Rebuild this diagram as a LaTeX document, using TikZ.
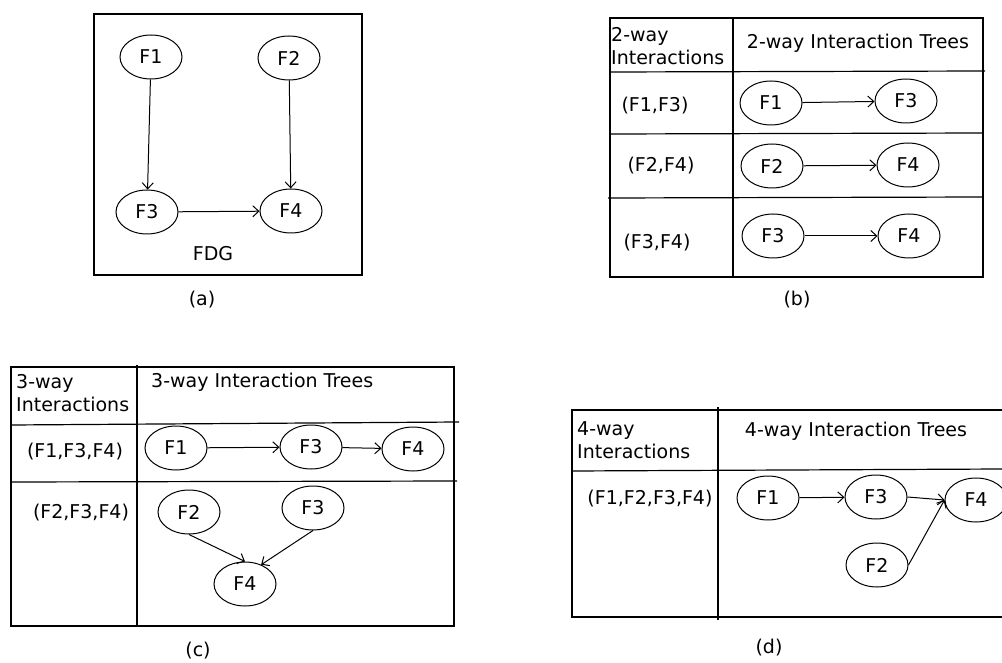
\documentclass[tikz,border=0pt]{standalone}
\usepackage{fontspec}
\setmainfont{DejaVu Sans}
\usetikzlibrary{shapes.geometric,arrows.meta}
\tikzset{
  feat/.style={draw,ellipse,line width=1pt,minimum width=62pt,minimum height=44pt,inner sep=0pt},
  dep/.style={-{Straight Barb[length=6pt,width=11pt]},line width=1pt},
  grid/.style={line width=1.2pt},
  head/.style={align=left,anchor=west,inner sep=0pt}
}
\begin{document}
\begin{tikzpicture}[x=1pt,y=-1pt,font=\fontsize{19}{23}\selectfont]
\useasboundingbox (0,0) rectangle (1002,663);

% (a) FDG
\draw[grid] (94,14) rectangle (362,275);
\node[feat] (a1) at (151,57) {F1};
\node[feat] (a2) at (289,58) {F2};
\node[feat] (a3) at (147,212) {F3};
\node[feat] (a4) at (291,211) {F4};
\draw[dep] (a1) -- (a3);
\draw[dep] (a2) -- (a4);
\draw[dep] (a3) -- (a4);
\node (fdg) at (213,254) {FDG};
\node (capa) at (202,300) {(a)};

% (b) 2-way
\draw[grid] (610,18) rectangle (983,277);
\draw[grid] (733,18) -- (733,277);
\draw[grid] (610,72) -- (985,71);
\draw[grid] (610,134) -- (983,133);
\draw[grid] (608,198) -- (983,197);
\node[head] (b0) at (611,46) {2-way\\Interactions};
\node (bt) at (858,43) {2-way Interaction Trees};
\node (br1) at (655,106) {(F1,F3)};
\node (br2) at (661,166) {(F2,F4)};
\node (br3) at (657,243) {(F3,F4)};
\node[feat] (b11) at (771,103) {F1};
\node[feat] (b13) at (906,101) {F3};
\node[feat] (b22) at (772,166) {F2};
\node[feat] (b24) at (908,165) {F4};
\node[feat] (b33) at (773,236) {F3};
\node[feat] (b34) at (909,236) {F4};
\draw[dep] (b11) -- (b13);
\draw[dep] (b22) -- (b24);
\draw[dep] (b33) -- (b34);
\node (capb) at (797,300) {(b)};

% (c) 3-way
\draw[grid] (11,367) rectangle (454,626);
\draw[grid] (137,365) -- (137,626);
\draw[grid] (11,425) -- (459,422);
\draw[grid] (11,482) -- (457,481);
\node[head] (c0) at (16,393) {3-way\\Interactions};
\node[anchor=west,inner sep=0pt] (ct) at (151,382) {3-way Interaction Trees};
\node (cr1) at (75,452) {(F1,F3,F4)};
\node (cr2) at (81,513) {(F2,F3,F4)};
\node[feat] (c11) at (176,448) {F1};
\node[feat] (c13) at (311,447) {F3};
\node[feat] (c14) at (413,449) {F4};
\draw[dep] (c11) -- (c13);
\draw[dep] (c13) -- (c14);
\node[feat] (c22) at (189,512) {F2};
\node[feat] (c23) at (313,508) {F3};
\node[feat] (c24) at (245,584) {F4};
\draw[dep] (c22.south) -- (c24.north);
\draw[dep] (c23.south) -- (c24.50);
\node (capc) at (198,651) {(c)};

% (d) 4-way
\draw[grid] (572,410) rectangle (1004,617);
\draw[grid] (718,407) -- (718,620);
\draw[grid] (572,471) -- (1002,469);
\node[head] (d0) at (577,440) {4-way\\Interactions};
\node (dt) at (856,431) {4-way Interaction Trees};
\node (dr1) at (650,499) {(F1,F2,F3,F4)};
\node[feat] (d1) at (768,498) {F1};
\node[feat] (d3) at (876,497) {F3};
\node[feat] (d4) at (976,500) {F4};
\node[feat] (d2) at (877,565) {F2};
\draw[dep] (d1) -- (d3);
\draw[dep] (d3.east) -- (d4.west);
\draw[dep] (d2.east) -- (d4.west);
\node (capd) at (769,648) {(d)};
\end{tikzpicture}
\end{document}
